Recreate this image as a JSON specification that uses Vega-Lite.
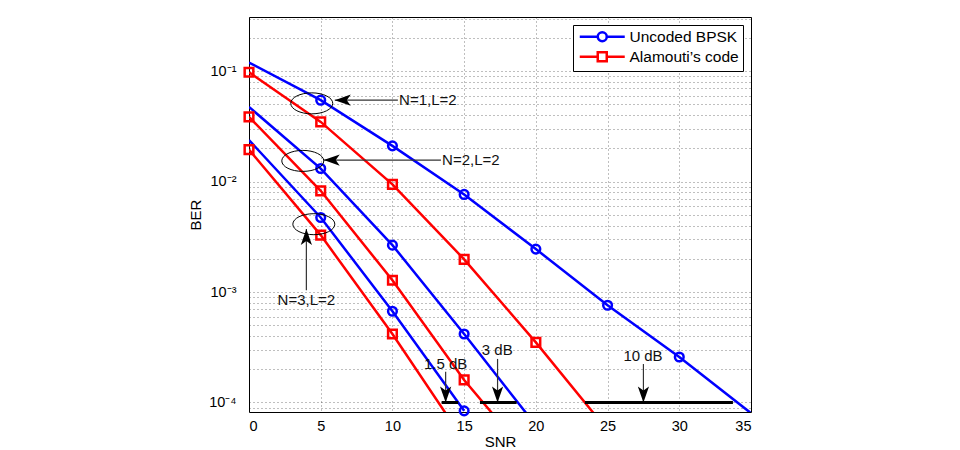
{
  "$schema": "https://vega.github.io/schema/vega-lite/v6.json",
  "width": 502,
  "height": 395,
  "autosize": {"type": "none"},
  "padding": {"left": 249, "top": 17, "right": 209, "bottom": 38},
  "background": "white",
  "config": {
    "font": "Liberation Sans",
    "view": {"stroke": "#000", "strokeWidth": 1},
    "axis": {"gridDash": [1, 3], "gridColor": "#000", "gridOpacity": 0.5, "gridWidth": 1, "labelColor": "#000", "titleColor": "#000", "titleFontWeight": "normal", "ticks": false, "domain": false}
  },
  "datasets": {
    "curves": [
      {"scheme": "Uncoded BPSK", "curve": "N=1", "snr": 0, "ber": 0.12},
      {"scheme": "Uncoded BPSK", "curve": "N=1", "snr": 5, "ber": 0.0547},
      {"scheme": "Uncoded BPSK", "curve": "N=1", "snr": 10, "ber": 0.0211},
      {"scheme": "Uncoded BPSK", "curve": "N=1", "snr": 15, "ber": 0.00766},
      {"scheme": "Uncoded BPSK", "curve": "N=1", "snr": 20, "ber": 0.00245},
      {"scheme": "Uncoded BPSK", "curve": "N=1", "snr": 25, "ber": 0.00076},
      {"scheme": "Uncoded BPSK", "curve": "N=1", "snr": 30, "ber": 0.000258},
      {"scheme": "Uncoded BPSK", "curve": "N=1", "snr": 35, "ber": 0.00008},
      {"scheme": "Uncoded BPSK", "curve": "N=2", "snr": 0, "ber": 0.0475},
      {"scheme": "Uncoded BPSK", "curve": "N=2", "snr": 5, "ber": 0.01315},
      {"scheme": "Uncoded BPSK", "curve": "N=2", "snr": 10, "ber": 0.00266},
      {"scheme": "Uncoded BPSK", "curve": "N=2", "snr": 15, "ber": 0.000417},
      {"scheme": "Uncoded BPSK", "curve": "N=2", "snr": 20, "ber": 0.000062},
      {"scheme": "Uncoded BPSK", "curve": "N=3", "snr": 0, "ber": 0.0238},
      {"scheme": "Uncoded BPSK", "curve": "N=3", "snr": 5, "ber": 0.00474},
      {"scheme": "Uncoded BPSK", "curve": "N=3", "snr": 10, "ber": 0.00067},
      {"scheme": "Uncoded BPSK", "curve": "N=3", "snr": 15, "ber": 0.000084},
      {"scheme": "Alamouti’s code", "curve": "N=1", "snr": 0, "ber": 0.098},
      {"scheme": "Alamouti’s code", "curve": "N=1", "snr": 5, "ber": 0.0348},
      {"scheme": "Alamouti’s code", "curve": "N=1", "snr": 10, "ber": 0.00944},
      {"scheme": "Alamouti’s code", "curve": "N=1", "snr": 15, "ber": 0.00198},
      {"scheme": "Alamouti’s code", "curve": "N=1", "snr": 20, "ber": 0.00035},
      {"scheme": "Alamouti’s code", "curve": "N=1", "snr": 25, "ber": 0.000056},
      {"scheme": "Alamouti’s code", "curve": "N=2", "snr": 0, "ber": 0.0386},
      {"scheme": "Alamouti’s code", "curve": "N=2", "snr": 5, "ber": 0.00826},
      {"scheme": "Alamouti’s code", "curve": "N=2", "snr": 10, "ber": 0.00128},
      {"scheme": "Alamouti’s code", "curve": "N=2", "snr": 15, "ber": 0.00016},
      {"scheme": "Alamouti’s code", "curve": "N=2", "snr": 20, "ber": 0.000027},
      {"scheme": "Alamouti’s code", "curve": "N=3", "snr": 0, "ber": 0.0195},
      {"scheme": "Alamouti’s code", "curve": "N=3", "snr": 5, "ber": 0.00328},
      {"scheme": "Alamouti’s code", "curve": "N=3", "snr": 10, "ber": 0.000417},
      {"scheme": "Alamouti’s code", "curve": "N=3", "snr": 15, "ber": 0.000045}
    ],
    "ellipses": [
      {"group": "N=1,L=2", "snr": 4.375, "ber": 0.0512},
      {"group": "N=2,L=2", "snr": 3.75, "ber": 0.01542},
      {"group": "N=3,L=2", "snr": 4.52, "ber": 0.00412}
    ],
    "arrows": [
      {"name": "N=1,L=2", "snr": 5.98, "ber": 0.0547, "snr2": 10.38, "ber2": 0.0547, "dir": "left"},
      {"name": "N=2,L=2", "snr": 5.21, "ber": 0.01567, "snr2": 13.38, "ber2": 0.01567, "dir": "left"},
      {"name": "N=3,L=2", "snr": 4.0, "ber": 0.00372, "snr2": 4.0, "ber2": 0.00104, "dir": "up"},
      {"name": "1.5 dB", "snr": 13.71, "ber": 0.0001, "snr2": 13.71, "ber2": 0.00019, "dir": "down"},
      {"name": "3 dB", "snr": 17.33, "ber": 0.0001, "snr2": 17.33, "ber2": 0.000248, "dir": "down"},
      {"name": "10 dB", "snr": 27.5, "ber": 0.0001, "snr2": 27.5, "ber2": 0.000223, "dir": "down"}
    ],
    "gaps": [
      {"name": "1.5 dB", "snr": 13.43, "snr2": 14.59, "ber": 0.0001},
      {"name": "3 dB", "snr": 16.1, "snr2": 18.66, "ber": 0.0001},
      {"name": "10 dB", "snr": 23.42, "snr2": 33.74, "ber": 0.0001}
    ],
    "labels": [
      {"text": "N=1,L=2", "snr": 12.47, "ber": 0.0547},
      {"text": "N=2,L=2", "snr": 15.47, "ber": 0.01567},
      {"text": "N=3,L=2", "snr": 4.0, "ber": 0.000847},
      {"text": "1.5 dB", "snr": 13.71, "ber": 0.000223},
      {"text": "3 dB", "snr": 17.31, "ber": 0.0002985},
      {"text": "10 dB", "snr": 27.47, "ber": 0.000265}
    ]
  },
  "encoding": {
    "x": {
      "field": "snr", "type": "quantitative",
      "scale": {"domain": [0, 35], "nice": false, "zero": false},
      "axis": {"title": "SNR", "values": [0, 5, 10, 15, 20, 25, 30, 35], "grid": true, "labelFontSize": 14.5, "labelPadding": 7, "titleFontSize": 15, "titlePadding": 2}
    },
    "y": {
      "field": "ber", "type": "quantitative",
      "scale": {"type": "log", "domain": [0.000082, 0.31], "nice": false},
      "axis": {
        "title": "BER", "grid": true, "labelFontSize": 14.5, "labelPadding": 13, "titleFontSize": 15, "titlePadding": 5, "labelOverlap": false,
        "values": [0.00009, 0.0001, 0.0002, 0.0003, 0.0004, 0.0005, 0.0006, 0.0007, 0.0008, 0.0009, 0.001, 0.002, 0.003, 0.004, 0.005, 0.006, 0.007, 0.008, 0.009, 0.01, 0.02, 0.03, 0.04, 0.05, 0.06, 0.07, 0.08, 0.09, 0.1, 0.2, 0.3],
        "labelExpr": "datum.value == 0.1 ? '10⁻¹' : datum.value == 0.01 ? '10⁻²' : datum.value == 0.001 ? '10⁻³' : datum.value == 0.0001 ? '10⁻⁴' : ''"
      }
    }
  },
  "layer": [
    {
      "data": {"name": "curves"},
      "mark": {"type": "line", "strokeWidth": 2.5, "clip": true},
      "encoding": {
        "color": {
          "field": "scheme", "type": "nominal",
          "scale": {"domain": ["Uncoded BPSK", "Alamouti’s code"], "range": ["#0000ff", "#ff0000"]},
          "legend": {
            "title": null, "orient": "top-right", "offset": 8, "strokeColor": "#000", "fillColor": "white", "padding": 4,
            "labelFontSize": 15.5, "labelColor": "#000", "symbolSize": 100, "symbolStrokeWidth": 2.5, "labelOffset": 37, "rowPadding": 0,
            "encode": {
              "symbols": {
                "update": {
                  "shape": {"signal": "datum.value == 'Uncoded BPSK' ? 'M-1,0H2.6M4.4,0H8M4.4,0A0.9,0.9,0,1,1,2.6,0A0.9,0.9,0,1,1,4.4,0' : 'M-1,0H2.6M4.4,0H8M2.6,-0.9H4.4V0.9H2.6Z'"},
                  "fill": {"value": "transparent"}
                }
              }
            }
          }
        },
        "detail": {"field": "curve"}
      }
    },
    {
      "data": {"name": "curves"},
      "transform": [{"filter": "datum.ber > 0.00008 && !(datum.scheme == 'Uncoded BPSK' && (datum.snr == 0 || datum.snr == 35))"}],
      "mark": {"type": "point", "filled": false, "strokeWidth": 2.5, "size": 75, "opacity": 1},
      "encoding": {
        "color": {"field": "scheme", "type": "nominal"},
        "shape": {"field": "scheme", "type": "nominal", "scale": {"domain": ["Uncoded BPSK", "Alamouti’s code"], "range": ["circle", "square"]}, "legend": null}
      }
    },
    {
      "data": {"name": "ellipses"},
      "mark": {"type": "point", "shape": "M-1,0A1,0.5,0,1,1,1,0A1,0.5,0,1,1,-1,0Z", "size": 1764, "filled": false, "stroke": "#000", "strokeWidth": 1, "opacity": 1},
      "encoding": {}
    },
    {
      "data": {"name": "arrows"},
      "mark": {"type": "rule", "stroke": "#333", "strokeWidth": 1.2},
      "encoding": {"x2": {"field": "snr2"}, "y2": {"field": "ber2"}}
    },
    {
      "data": {"name": "arrows"},
      "mark": {"type": "point", "filled": true, "color": "#000", "size": 256, "opacity": 1, "strokeWidth": 0},
      "encoding": {
        "shape": {"field": "dir", "type": "nominal", "scale": {"domain": ["left", "up", "down"], "range": ["M0,0L2,-0.7L1.5,0L2,0.7Z", "M0,0L-0.7,2L0,1.5L0.7,2Z", "M0,0L-0.7,-2L0,-1.5L0.7,-2Z"]}, "legend": null}
      }
    },
    {
      "data": {"name": "gaps"},
      "mark": {"type": "rule", "stroke": "#000", "strokeWidth": 3},
      "encoding": {"x2": {"field": "snr2"}}
    },
    {
      "data": {"name": "labels"},
      "mark": {"type": "text", "fontSize": 15, "align": "center", "baseline": "middle", "color": "#111"},
      "encoding": {"text": {"field": "text"}}
    }
  ],
  "resolve": {"scale": {"shape": "independent"}}
}
